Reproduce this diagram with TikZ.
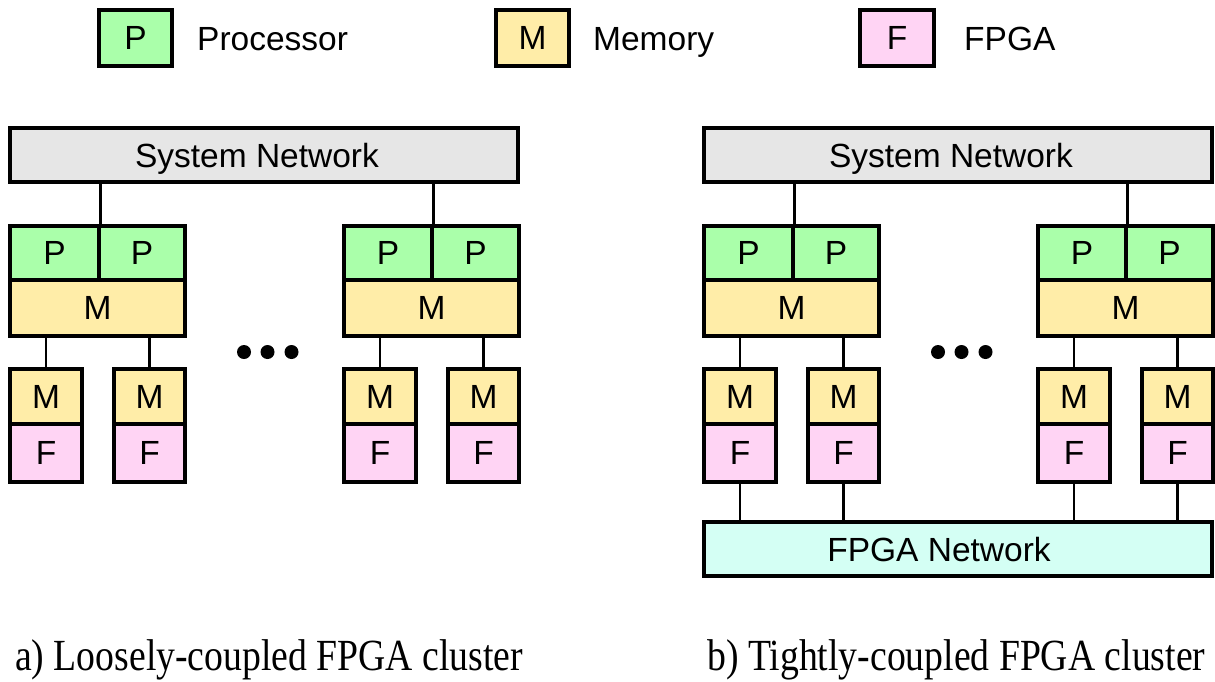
\documentclass[tikz,border=0pt]{standalone}
\usepackage{fontspec}
\setmainfont{Liberation Sans}
\newfontfamily\capfont{Liberation Serif}

\definecolor{procgreen}{HTML}{AAFFAA}
\definecolor{memyellow}{HTML}{FFEDA8}
\definecolor{fpgapink}{HTML}{FFD4F4}
\definecolor{netgrey}{HTML}{E6E6E6}
\definecolor{fnetcyan}{HTML}{D4FFF4}

\tikzset{
  celltext/.style={inner sep=0pt, text depth=0pt,
                   font=\fontsize{33.5}{38}\selectfont, text=black},
  cell/.style={celltext, draw=black, line width=3.4pt},
  proc/.style={cell, fill=procgreen},
  mem/.style={cell, fill=memyellow},
  fpga/.style={cell, fill=fpgapink},
  net/.style={cell, fill=netgrey},
  fnet/.style={cell, fill=fnetcyan},
  wire/.style={line width=2.9pt},
  legendtext/.style={celltext, anchor=west},
  caption/.style={anchor=base west, inner sep=0pt,
                  font=\capfont\fontsize{37.7}{44}\selectfont},
}

% caption lettering is set a little taller than wide
\newcommand\tallcaption[1]{\scalebox{1}[1.18]{#1}}

% box from corner (x1,y1) to corner (x2,y2): name, style, x1, y1, x2, y2, text
\newcommand\boxcell[7]{%
  \node[#2, minimum width={(#5)-(#3)}, minimum height={(#6)-(#4)}]
    (#1) at ({((#3)+(#5))/2},{((#4)+(#6))/2}) {#7};}

% one node: two processors over a shared memory, two memory+FPGA cards below
\newcommand\nodecluster[3]{% prefix, left edge, processor split
  \boxcell{#1pl}{proc}{#2}{226}{#2+#3}{280}{P}
  \boxcell{#1pr}{proc}{#2+#3}{226}{#2+175}{280}{P}
  \boxcell{#1m}{mem}{#2}{280}{#2+175}{336}{M}
  \boxcell{#1am}{mem}{#2}{369}{#2+72}{424}{M}
  \boxcell{#1af}{fpga}{#2}{424}{#2+72}{482}{F}
  \boxcell{#1bm}{mem}{#2+104}{369}{#2+175}{424}{M}
  \boxcell{#1bf}{fpga}{#2+104}{424}{#2+175}{482}{F}
  \draw[wire] (#1am.north) -- (#1am.north |- #1m.south);
  \draw[wire] (#1bm.north) -- (#1bm.north |- #1m.south);
}

% a cluster: system network, two nodes and the ellipsis between them
\newcommand\clusterpanel[2]{% prefix, x offset
  \begin{scope}[xshift=#2]
    \boxcell{#1sys}{net}{10}{128}{518}{182}{}
    \node[celltext, xshift=-7pt] (#1syslabel) at (#1sys.center) {System Network};
    \nodecluster{#1c}{10}{89}
    \nodecluster{#1d}{344}{88}
    \draw[wire] (#1cpl.north east) -- (#1cpl.north east |- #1sys.south);
    \draw[wire] (#1dpl.north east) -- (#1dpl.north east |- #1sys.south);
    \foreach \dx in {244,267.5,291.5}
      \fill (\dx,352) circle (7);
  \end{scope}}

\begin{document}
\begin{tikzpicture}[x=1pt,y=-1pt]
  \useasboundingbox (0,0) rectangle (1215,681);

  % legend
  \boxcell{lp}{proc}{99}{10}{172}{66}{P}
  \node[legendtext] (lpt) at (197,39) {Processor};
  \boxcell{lm}{mem}{496}{10}{569}{66}{M}
  \node[legendtext] (lmt) at (593,39) {Memory};
  \boxcell{lf}{fpga}{860}{10}{934}{66}{F}
  \node[legendtext] (lft) at (964,39) {FPGA};

  % a) loosely coupled
  \clusterpanel{a}{0pt}

  % b) tightly coupled, with the FPGA network
  \clusterpanel{b}{694pt}
  \boxcell{fnet}{fnet}{704}{522}{1212}{576}{}
  \node[celltext, xshift=-19pt] (fnetlabel) at (fnet.center) {FPGA Network};
  \foreach \f in {bcaf,bcbf,bdaf,bdbf}
    \draw[wire] (\f.south) -- (\f.south |- fnet.north);

  % captions
  \node[caption] (capa) at (15,670) {\tallcaption{a) Loosely-coupled FPGA cluster}};
  \node[caption] (capb) at (707,670) {\tallcaption{b) Tightly-coupled FPGA cluster}};
\end{tikzpicture}
\end{document}
